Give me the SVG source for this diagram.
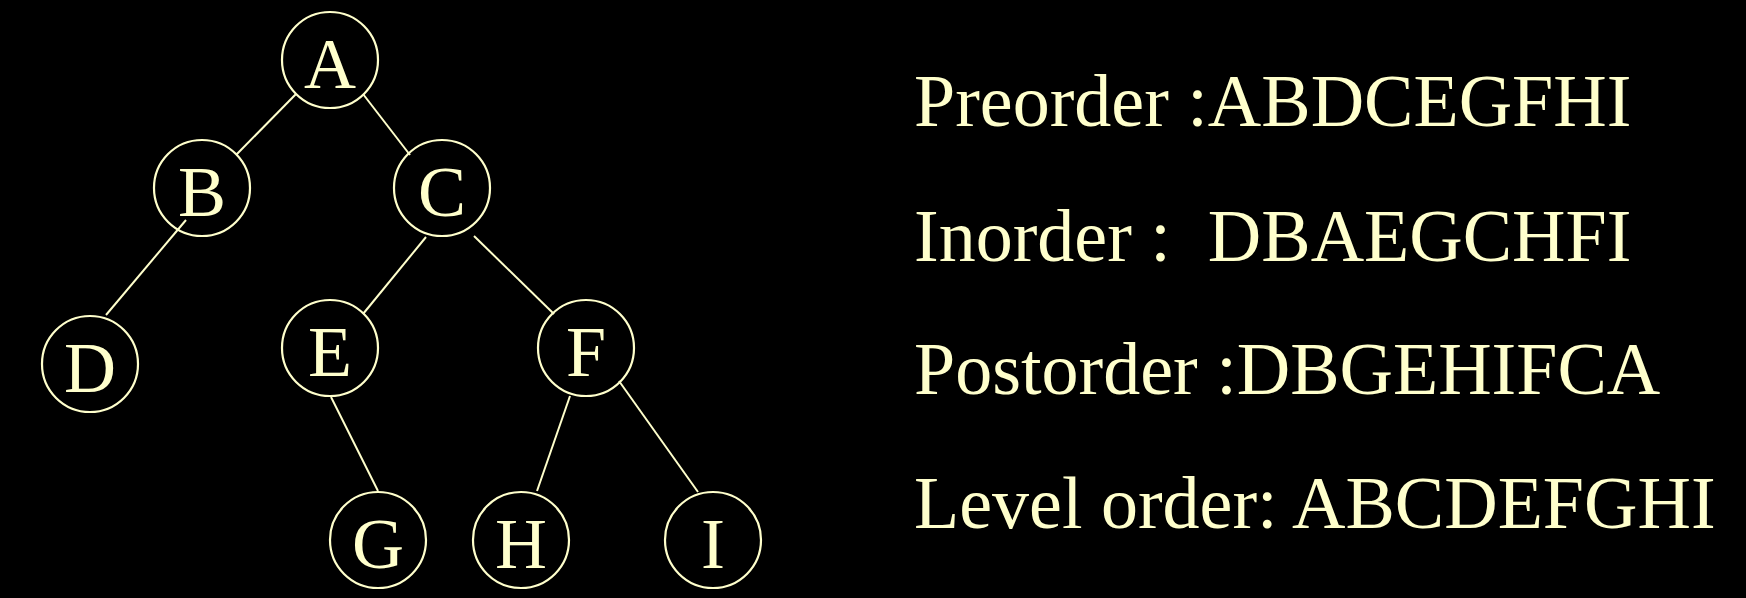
<svg xmlns="http://www.w3.org/2000/svg" width="1746" height="598" viewBox="0 0 1746 598">
<style>
.bg{fill:#000000}
.node circle{fill:none;stroke:#FFFFCC;stroke-width:2.2}
.node text{fill:#FFFFCC;font-family:"Liberation Serif","Times New Roman",serif;font-size:72px;text-anchor:middle}
#edges line{stroke:#FFFFCC;stroke-width:2}
.order{fill:#FFFFCC;font-family:"Liberation Serif","Times New Roman",serif;font-size:74px;white-space:pre}
</style>
<rect class="bg" x="0" y="0" width="1746" height="598"/>
<g id="edges">
<line x1="296" y1="94" x2="236" y2="155"/>
<line x1="363" y1="94" x2="410" y2="155"/>
<line x1="186" y1="220" x2="106" y2="315"/>
<line x1="426" y1="237" x2="363" y2="314"/>
<line x1="474" y1="236" x2="554" y2="314"/>
<line x1="331" y1="397" x2="378" y2="491"/>
<line x1="570" y1="396" x2="537" y2="491"/>
<line x1="619" y1="381" x2="698" y2="492"/>
</g>
<g id="node-A" class="node"><circle cx="330" cy="60" r="48"/><text x="330" y="88">A</text></g>
<g id="node-B" class="node"><circle cx="202" cy="188" r="48"/><text x="202" y="216">B</text></g>
<g id="node-C" class="node"><circle cx="442" cy="188" r="48"/><text x="442" y="216">C</text></g>
<g id="node-D" class="node"><circle cx="90" cy="364" r="48"/><text x="90" y="392">D</text></g>
<g id="node-E" class="node"><circle cx="330" cy="348" r="48"/><text x="330" y="376">E</text></g>
<g id="node-F" class="node"><circle cx="586" cy="348" r="48"/><text x="586" y="376">F</text></g>
<g id="node-G" class="node"><circle cx="378" cy="540" r="48"/><text x="378" y="568">G</text></g>
<g id="node-H" class="node"><circle cx="521" cy="540" r="48"/><text x="521" y="568">H</text></g>
<g id="node-I" class="node"><circle cx="713" cy="540" r="48"/><text x="713" y="568">I</text></g>
<g id="orders">
<text class="order" x="914" y="126">Preorder :ABDCEGFHI</text>
<text class="order" x="914" y="261" xml:space="preserve">Inorder :  DBAEGCHFI</text>
<text class="order" x="914" y="394">Postorder :DBGEHIFCA</text>
<text class="order" x="914" y="528">Level order: ABCDEFGHI</text>
</g>
</svg>
